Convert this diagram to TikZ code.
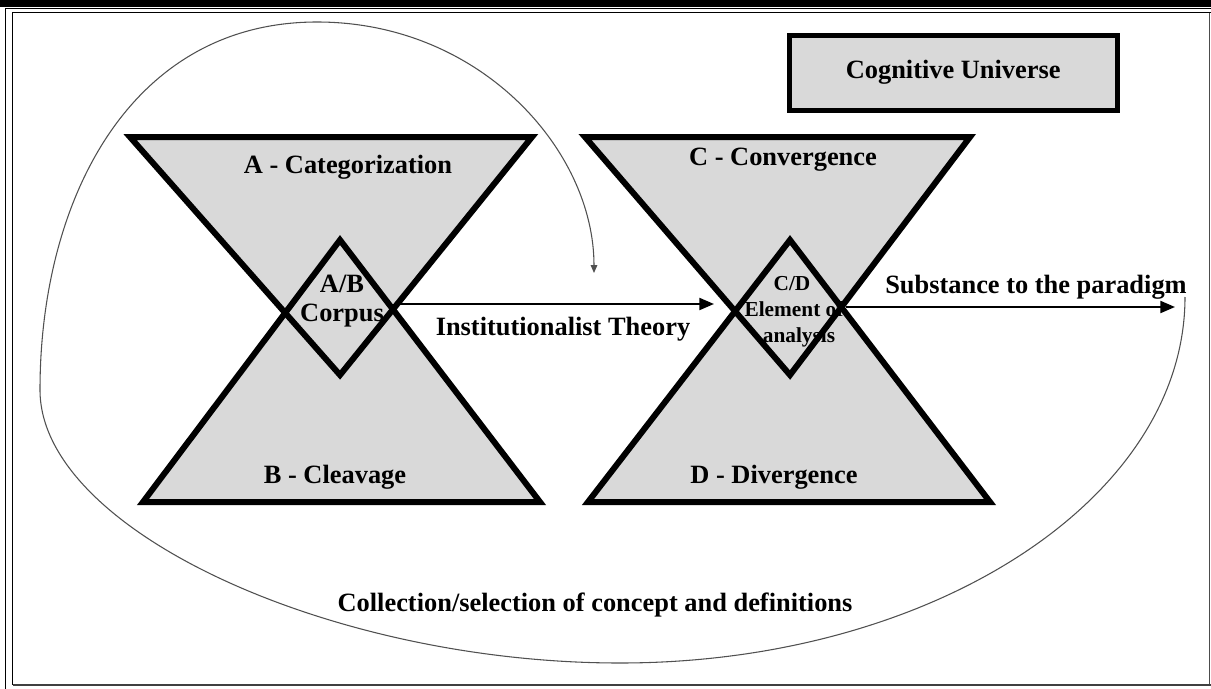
\documentclass[tikz,border=0pt]{standalone}
\usepackage{fontspec}
\setmainfont{Liberation Serif}
\usetikzlibrary{arrows.meta}
\definecolor{shade}{HTML}{D9D9D9}
\definecolor{curvegray}{HTML}{505050}
\begin{document}
\begin{tikzpicture}[x=0.75pt,y=-0.75pt,
  lbl/.style={font=\fontsize{19.8}{22}\selectfont\bfseries, inner sep=0pt, anchor=base},
  lblsmall/.style={font=\fontsize{16}{19}\selectfont\bfseries, inner sep=0pt, anchor=base},
  shapeedge/.style={line width=4.5pt, line join=miter, miter limit=20},
  trifill/.style={fill=shade},
  flow/.style={line width=1.6pt, -{Triangle[length=11pt,width=9pt]}},
  loopline/.style={draw=curvegray, line width=0.8pt, -{Triangle[length=6pt,width=5pt]}},
  cogbox/.style={draw, line width=3.75pt, fill=shade, minimum width=246pt, minimum height=56pt, inner sep=0pt, font=\fontsize{19.8}{22}\selectfont\bfseries},
]
\useasboundingbox (0,0) rectangle (1211,689);
% frame
\fill[black] (0,0) rectangle (1211,7);
\draw[line width=1.1pt] (5.5,689) -- (5.5,8.5) -- (1211,8.5);
\draw[line width=0.9pt] (12.5,684.5) -- (12.5,12.5) -- (1211,12.5);
\draw[line width=0.9pt, draw=black!70] (1209.5,12.5) -- (1209.5,685);
\draw[line width=1.8pt, draw=black!75] (12.5,684.8) -- (1211,684.8);

% coordinates of the two hourglasses
\coordinate (a1) at (130,137); \coordinate (a2) at (532,137); \coordinate (a3) at (340,375);
\coordinate (b1) at (143,502); \coordinate (b2) at (540,502); \coordinate (b3) at (340,240);
\coordinate (c1) at (585,137); \coordinate (c2) at (970,137); \coordinate (c3) at (790,375);
\coordinate (d1) at (588,502); \coordinate (d2) at (990,502); \coordinate (d3) at (790,240);

% fills
\fill[trifill] (a1) -- (a2) -- (a3) -- cycle;
\fill[trifill] (b1) -- (b2) -- (b3) -- cycle;
\fill[trifill] (c1) -- (c2) -- (c3) -- cycle;
\fill[trifill] (d1) -- (d2) -- (d3) -- cycle;

% labels inside shapes
\node[lbl] (catA) at (348,173) {A - Categorization};
\node[lbl] (cleB) at (335,483) {B - Cleavage};
\node[lbl] (conC) at (783,165) {C - Convergence};
\node[lbl] (divD) at (774,483) {D - Divergence};
\node[lbl] (ab) at (342,292) {A/B};
\node[lbl] (corpus) at (342,321) {Corpus};
\node[lblsmall] (cd) at (792,290) {C/D};
\node[lblsmall] (elem) at (794,316) {Element of};
\node[lblsmall] (anal) at (799,342) {analysis};

% strokes
\draw[shapeedge] (a1) -- (a2) -- (a3) -- cycle;
\draw[shapeedge] (b1) -- (b2) -- (b3) -- cycle;
\draw[shapeedge] (c1) -- (c2) -- (c3) -- cycle;
\draw[shapeedge] (d1) -- (d2) -- (d3) -- cycle;

% cognitive universe
\node[cogbox] (cog) at (953.2,72.7) {Cognitive Universe};

% arrows
\coordinate (abR) at (400,304);
\coordinate (instEnd) at (714,304);
\coordinate (cdR) at (846,307);
\coordinate (subEnd) at (1175,307);
\draw[flow] (abR) -- (instEnd);
\draw[flow] (cdR) -- (subEnd);
\node[lbl] (inst) at (563,335) {Institutionalist Theory};
\node[lbl] (subst) at (1036,293) {Substance to the paradigm};
\node[lbl] (coll) at (595,611) {Collection/selection of concept and definitions};

% big loop
\coordinate (loopStart) at (1185,297);
\coordinate (loopBottom) at (620,663);
\coordinate (loopLeft) at (40,390);
\coordinate (loopTop) at (317,22);
\coordinate (loopEnd) at (594,273);
\draw[loopline] (loopStart)
  .. controls (1185,499) and (932,663) .. (loopBottom)
  .. controls (330,663) and (40,530) .. (loopLeft)
  .. controls (40,200) and (130,22) .. (loopTop)
  .. controls (480,22) and (594,150) .. (loopEnd);
\end{tikzpicture}
\end{document}
